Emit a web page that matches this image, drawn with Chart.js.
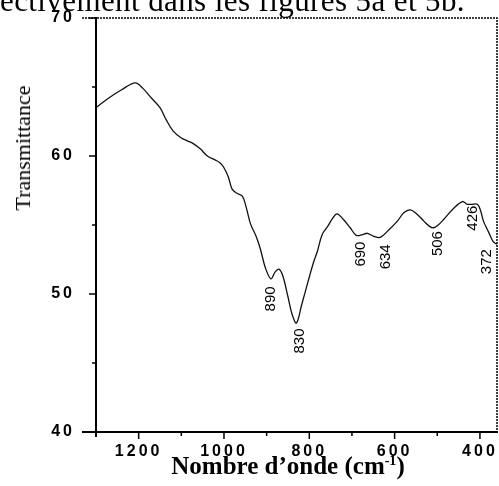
<!DOCTYPE html>
<html>
<head>
<meta charset="utf-8">
<script src="https://cdn.jsdelivr.net/npm/chart.js@4.4.1/dist/chart.umd.min.js"></script>
<style>
  body { margin: 0; background: #fff; overflow: hidden; }
  #wrap { position: relative; width: 499px; height: 486px; overflow: hidden; }
  #head { position: absolute; left: 0; top: -15px; font: 31px "Liberation Serif", serif; letter-spacing: 0.4px; line-height: 1; white-space: nowrap; color: #000; }
  #xtitle { position: absolute; left: 138px; top: 452px; width: 300px; text-align: center; font: bold 25px "Liberation Serif", serif; white-space: nowrap; color: #000; }
  #xtitle sup { font-size: 14px; }
  #ytitle { position: absolute; left: 23px; top: 148px; transform: translate(-50%, -50%) rotate(-90deg); font: 22px "Liberation Serif", serif; white-space: nowrap; color: #000; }
</style>
</head>
<body>
<div id="wrap">
  <canvas id="ir" width="499" height="486"></canvas>
  <div id="head">ectivement dans les figures 5a et 5b.</div>
  <div id="ytitle">Transmittance</div>
  <div id="xtitle">Nombre d’onde (cm<sup>-1</sup>)</div>
</div>
<script>
// IR spectrum: wavenumber (cm-1) and transmittance
const waveNumbers = [1300, 1270, 1240, 1208, 1190, 1173, 1150, 1135, 1119, 1100, 1086, 1072, 1055, 1039, 1020, 1009, 1001, 990, 981, 970, 957, 948, 938, 925, 915, 903, 890, 880, 871, 862, 850, 840, 830, 818, 803, 790, 781, 770, 757, 745, 735, 720, 704, 690, 675, 664, 650, 634, 615, 593, 578, 563, 548, 532, 518, 509, 498, 485, 462, 441, 430, 420, 406, 398, 392, 380, 369, 360];
const transmittance = [63.5, 64.2, 64.8, 65.3, 64.9, 64.3, 63.5, 62.6, 61.8, 61.3, 61.1, 60.9, 60.5, 60.0, 59.7, 59.5, 59.2, 58.5, 57.6, 57.3, 57.1, 56.3, 55.1, 54.2, 53.3, 51.9, 51.1, 51.6, 51.8, 51.3, 49.8, 48.5, 47.9, 49.2, 50.9, 52.3, 53.1, 54.3, 54.9, 55.5, 55.8, 55.4, 54.8, 54.25, 54.3, 54.4, 54.2, 54.1, 54.6, 55.3, 55.9, 56.1, 55.8, 55.3, 54.9, 54.8, 55.0, 55.4, 56.2, 56.7, 56.5, 56.5, 56.5, 56.0, 55.3, 54.5, 53.8, 53.6];

// axis ticks
const xTickValues = [1200, 1000, 800, 600, 400];
const xMinorTicks = [1100, 900, 700, 500];
const yTickValues = [70, 60, 50, 40];
const yMinorTicks = [65, 55, 45];

// peak annotations: text, and where the top of each (vertical) label sits
const peakLabels = ['890', '830', '690', '634', '506', '426', '372'];
const peakLabelWn = [890, 822, 679, 620, 498, 416, 383];
const peakLabelT = [50.55, 47.5, 53.8, 53.6, 54.56, 56.4, 53.25];

const points = waveNumbers.map((w, i) => ({ x: w, y: transmittance[i] }));

// letter spaced tick labels like the scanned figure
const spacing = {
    id: 'spacing',
    beforeDraw(chart) { chart.ctx.letterSpacing = '3px'; },
    afterDraw(chart) { chart.ctx.letterSpacing = '0px'; }
};

// frame, tick marks and peak labels
const decorations = {
    id: 'decorations',
    afterDraw(chart) {
        const ctx = chart.ctx;
        const area = chart.chartArea;
        const xs = chart.scales.x;
        const ys = chart.scales.y;
        ctx.save();
        ctx.letterSpacing = '0px';
        ctx.strokeStyle = '#000';

        // top and right border (dotted in the scan)
        ctx.lineWidth = 1.5;
        ctx.setLineDash([2, 1]);
        ctx.beginPath();
        ctx.moveTo(area.left - 14, area.top);
        ctx.lineTo(area.right, area.top);
        ctx.lineTo(area.right, area.bottom);
        ctx.stroke();
        ctx.setLineDash([]);

        // axis extensions at the corner
        ctx.lineWidth = 2;
        ctx.beginPath();
        ctx.moveTo(area.left - 14, area.bottom);
        ctx.lineTo(area.left, area.bottom);
        ctx.moveTo(area.left, area.bottom);
        ctx.lineTo(area.left, area.bottom + 5);
        ctx.stroke();

        // x ticks
        ctx.lineWidth = 1.5;
        ctx.beginPath();
        xTickValues.forEach(v => {
            const px = xs.getPixelForValue(v);
            ctx.moveTo(px, area.bottom);
            ctx.lineTo(px, area.bottom + 7);
        });
        xMinorTicks.forEach(v => {
            const px = xs.getPixelForValue(v);
            ctx.moveTo(px, area.bottom);
            ctx.lineTo(px, area.bottom + 4);
        });
        // y ticks
        yTickValues.forEach(v => {
            const py = ys.getPixelForValue(v);
            ctx.moveTo(area.left - 7, py);
            ctx.lineTo(area.left, py);
        });
        yMinorTicks.forEach(v => {
            const py = ys.getPixelForValue(v);
            ctx.moveTo(area.left - 4, py);
            ctx.lineTo(area.left, py);
        });
        ctx.stroke();

        // peak labels, rotated
        ctx.fillStyle = '#000';
        ctx.font = '15px "Liberation Sans", Arial, sans-serif';
        ctx.textAlign = 'right';
        ctx.textBaseline = 'middle';
        peakLabels.forEach((txt, i) => {
            const px = xs.getPixelForValue(peakLabelWn[i]);
            const py = ys.getPixelForValue(peakLabelT[i]);
            ctx.save();
            ctx.translate(px, py);
            ctx.rotate(-Math.PI / 2);
            ctx.fillText(txt, 0, 0);
            ctx.restore();
        });
        ctx.restore();
    }
};

new Chart(document.getElementById('ir'), {
    type: 'line',
    data: {
        datasets: [{
            data: points,
            borderColor: '#111',
            borderWidth: 1.3,
            pointRadius: 0,
            tension: 0.35,
            fill: false
        }]
    },
    options: {
        responsive: false,
        animation: false,
        layout: { padding: { top: 18, right: 2, left: 0, bottom: 0 } },
        plugins: { legend: { display: false }, tooltip: { enabled: false } },
        scales: {
            x: {
                type: 'linear',
                reverse: true,
                min: 360,
                max: 1300,
                afterBuildTicks: scale => { scale.ticks = xTickValues.map(v => ({ value: v })); },
                afterFit: scale => {
                    scale.height = 54;
                    scale.paddingLeft = 0;
                    scale.paddingRight = 0;
                },
                grid: { display: false, drawTicks: false },
                border: { display: true, color: '#000', width: 2 },
                ticks: {
                    padding: 10,
                    color: '#000',
                    maxRotation: 0,
                    callback: v => String(v),
                    font: { family: 'Liberation Sans', size: 16, weight: 'bold' }
                }
            },
            y: {
                min: 40,
                max: 70,
                afterBuildTicks: scale => { scale.ticks = yTickValues.map(v => ({ value: v })); },
                afterFit: scale => {
                    scale.width = 96;
                    scale.paddingTop = 0;
                    scale.paddingBottom = 0;
                },
                grid: { display: false, drawTicks: false },
                border: { display: true, color: '#000', width: 2 },
                ticks: {
                    padding: 21,
                    color: '#000',
                    callback: v => String(v),
                    font: { family: 'Liberation Sans', size: 16, weight: 'bold' }
                }
            }
        }
    },
    plugins: [spacing, decorations]
});
</script>
</body>
</html>
